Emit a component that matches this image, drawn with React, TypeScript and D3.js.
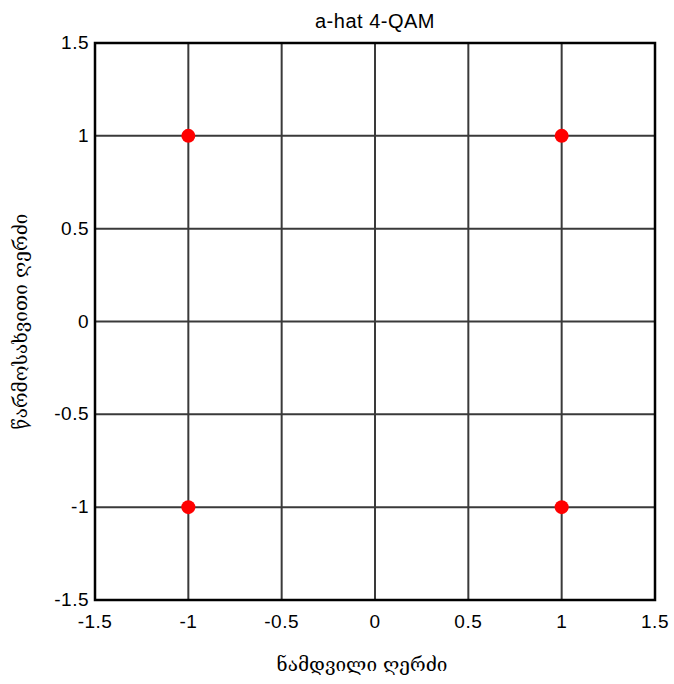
import { useEffect, useRef } from "react"
import * as d3 from "d3"

const title = "a-hat 4-QAM"
const xLabel = "ნამდვილი ღერძი"
const yLabel = "წარმოსახვითი ღერძი"

const tickValues = [-1.5, -1, -0.5, 0, 0.5, 1, 1.5]
const pointsRe = [-1, 1, -1, 1]
const pointsIm = [1, 1, -1, -1]

export default function App() {
  const svgRef = useRef<SVGSVGElement>(null)

  useEffect(() => {
    if (!svgRef.current) return
    const width = 674
    const height = 684
    const margin = { top: 43, right: 19, bottom: 84, left: 95 }

    const svg = d3.select(svgRef.current)
    svg.selectAll("*").remove()
    svg.attr("width", width).attr("height", height)
      .style("font-family", "'Liberation Sans', Arial, sans-serif")

    const x = d3.scaleLinear().domain([-1.5, 1.5]).range([margin.left, width - margin.right])
    const y = d3.scaleLinear().domain([-1.5, 1.5]).range([height - margin.bottom, margin.top])

    svg.append("rect").attr("width", width).attr("height", height).attr("fill", "#fff")

    // grid lines
    const g = svg.append("g")
    g.selectAll("line.vx")
      .data(tickValues)
      .join("line")
      .attr("class", "vx")
      .attr("x1", d => x(d)).attr("x2", d => x(d))
      .attr("y1", y(-1.5)).attr("y2", y(1.5))
      .attr("stroke", "#3a3a3a")
      .attr("stroke-width", 2)
    g.selectAll("line.hy")
      .data(tickValues)
      .join("line")
      .attr("class", "hy")
      .attr("y1", d => y(d)).attr("y2", d => y(d))
      .attr("x1", x(-1.5)).attr("x2", x(1.5))
      .attr("stroke", "#3a3a3a")
      .attr("stroke-width", 2)

    // frame
    svg.append("rect")
      .attr("x", x(-1.5)).attr("y", y(1.5))
      .attr("width", x(1.5) - x(-1.5))
      .attr("height", y(-1.5) - y(1.5))
      .attr("fill", "none")
      .attr("stroke", "#000")
      .attr("stroke-width", 2.5)

    // tick labels
    svg.append("g").selectAll("text")
      .data(tickValues)
      .join("text")
      .attr("x", d => x(d))
      .attr("y", y(-1.5) + 28)
      .attr("text-anchor", "middle")
      .attr("font-size", 19)
      .attr("letter-spacing", 0.5)
      .text(d => String(d))
    svg.append("g").selectAll("text")
      .data(tickValues)
      .join("text")
      .attr("x", x(-1.5) - 6)
      .attr("y", d => y(d) + 6)
      .attr("text-anchor", "end")
      .attr("font-size", 19)
      .attr("letter-spacing", 0.5)
      .text(d => String(d))

    // points
    svg.append("g").selectAll("circle")
      .data(pointsRe.map((re, i) => ({ re, im: pointsIm[i] })))
      .join("circle")
      .attr("cx", d => x(d.re))
      .attr("cy", d => y(d.im))
      .attr("r", 7)
      .attr("fill", "#ff0000")

    // title
    svg.append("text")
      .attr("x", (x(-1.5) + x(1.5)) / 2)
      .attr("y", 28)
      .attr("text-anchor", "middle")
      .attr("font-size", 20)
      .attr("letter-spacing", 0.5)
      .text(title)

    // axis labels
    svg.append("text")
      .attr("x", 362)
      .attr("y", 671)
      .attr("text-anchor", "middle")
      .attr("font-family", "'DejaVu Serif', serif")
      .attr("font-size", 19)
      .text(xLabel)
    svg.append("text")
      .attr("transform", `translate(27,${(y(-1.5) + y(1.5)) / 2}) rotate(-90)`)
      .attr("text-anchor", "middle")
      .attr("font-family", "'DejaVu Serif', serif")
      .attr("font-size", 19)
      .text(yLabel)
  }, [])

  return (
    <div style={{ position: "absolute", left: 0, top: 0 }}>
      <svg ref={svgRef} style={{ display: "block" }} />
    </div>
  )
}
